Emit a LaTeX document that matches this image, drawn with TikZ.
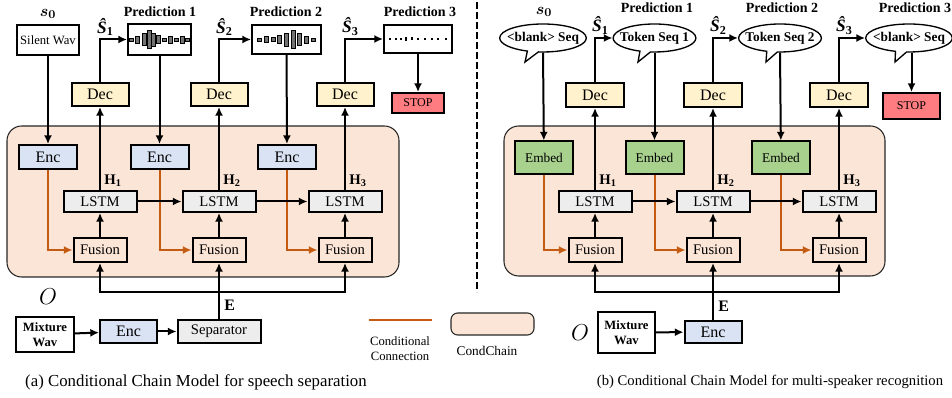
\documentclass[tikz,border=0pt]{standalone}
\usepackage{fontspec}
\setmainfont{Liberation Serif}
\usepackage{bm}
\usetikzlibrary{arrows.meta,shapes.callouts}
\definecolor{chainfill}{HTML}{FBE5D6}
\definecolor{encblue}{HTML}{DAE3F3}
\definecolor{decyellow}{HTML}{FFF2CC}
\definecolor{lstmgray}{HTML}{EDEDED}
\definecolor{embgreen}{HTML}{A9D18E}
\definecolor{stopred}{HTML}{FF7C80}
\definecolor{condorange}{HTML}{C55A11}
\newlength{\pxu}
\setlength{\pxu}{0.75pt}
\begin{document}
\begin{tikzpicture}[x=0.75pt,y=-0.75pt,
		blk/.style={draw,line width=1.5pt,inner sep=0pt,align=center},
		enc/.style={blk,fill=encblue,minimum width=58\pxu,minimum height=24\pxu,font=\fontsize{12}{14}\selectfont},
		dec/.style={blk,fill=decyellow,minimum width=57\pxu,minimum height=23\pxu,font=\fontsize{12}{14}\selectfont},
		lstm/.style={blk,fill=lstmgray,minimum width=73\pxu,minimum height=21\pxu,font=\fontsize{11}{13}\selectfont},
		fuse/.style={blk,fill=chainfill,minimum width=53\pxu,minimum height=24\pxu,font=\fontsize{11}{13}\selectfont},
		embed/.style={blk,fill=embgreen,minimum width=58\pxu,minimum height=33\pxu,font=\fontsize{10}{12}\selectfont},
		stopbox/.style={blk,fill=stopred,font=\fontsize{9}{11}\selectfont},
		pred/.style={blk,fill=white},
		bubble/.style={ellipse callout,draw,line width=1pt,fill=white,inner xsep=-4pt,inner ysep=0pt,minimum height=28\pxu,font=\bfseries\fontsize{10}{12}\selectfont},
		title/.style={inner sep=0pt,font=\bfseries\fontsize{10.5}{12}\selectfont},
		hlab/.style={inner sep=1pt,font=\fontsize{11}{13}\selectfont},
		hatlab/.style={pos=0.5,anchor=south,inner sep=0pt,yshift=2pt,font=\bfseries\itshape\fontsize{13}{15}\selectfont},
		chain/.style={fill=chainfill,draw=black!85,line width=0.8pt,rounded corners=11pt},
		bar/.style={fill=black!55,draw=black,line width=0.4pt},
		line/.style={line width=1.5pt},
		arr/.style={line width=1.5pt,-{Latex[length=6.5pt,width=6pt]}},
		cond/.style={arr,draw=condorange}]
	\useasboundingbox (0,0) rectangle (952,398);
	
	% CondChain blocks
	\draw[chain] (7,126) rectangle (399,277);
	\draw[chain] (504,126) rectangle (885,276);
	
	%%%%%% (a) speech separation
	\node[blk,minimum width=62\pxu,minimum height=30\pxu,font=\fontsize{9.5}{11}\selectfont] (silent) at (48,40) {Silent Wav};
	\node[inner sep=0pt,font=\fontsize{13}{15}\selectfont] (sa0) at (48,14) {$\bm{s}_{\bm{0}}$};
	
	% Predictions
	\node[pred,minimum width=63\pxu,minimum height=31\pxu] (pa1) at (159.5,39.5) {};
	\node[pred,minimum width=69\pxu,minimum height=29\pxu] (pa2) at (286.5,39.5) {};
	\node[pred,minimum width=68\pxu,minimum height=28\pxu] (pa3) at (418,39) {};
	\node[title] (tpa1) at (160,12) {Prediction 1};
	\node[title] (tpa2) at (286,12) {Prediction 2};
	\node[title] (tpa3) at (420,12) {Prediction 3};
	\node[stopbox,minimum width=52\pxu,minimum height=20\pxu] (stopa) at (418,103) {STOP};
	\draw[arr] (pa3) -- (stopa);
	
	% Waveforms
	\begin{scope}[shift={(pa1.center)}]
		\foreach \dx/\h in {-28/3,-22/7,-15.5/12,-10.5/18,-6/13,-1/8,4.5/3,10.5/7,16.5/3,23/7,28/3}
			\draw[bar] (\dx-1.8,-\h/2) rectangle (\dx+1.8,\h/2);
	\end{scope}
	\begin{scope}[shift={(pa2.center)}]
		\foreach \dx/\h in {-27.5/3,-20.5/6,-13.5/4,-7.5/8,-0.5/13,6.5/18,12.5/12,19.5/7,26.5/3}
			\draw[bar] (\dx-1.8,-\h/2) rectangle (\dx+1.8,\h/2);
	\end{scope}
	\begin{scope}[shift={(pa3.center)}]
		\foreach \dx/\h in {-28/1.5,-22/1.5,-17/1.5,-12/4,-6/3,0/1.5,7/1.5,14/1.5,20/1.5,28/1.5}
			\fill (\dx-0.8,-\h/2) rectangle (\dx+0.8,\h/2);
	\end{scope}
	
	% Enc
	\foreach \k/\x in {1/48,2/159.5,3/287}
		\node[enc] (enca\k) at (\x,157) {Enc};
	\draw[arr] (silent) -- (enca1);
	\draw[arr] (pa1) -- (enca2);
	\draw[arr] (pa2) -- (enca3);
	
	% Dec, LSTM and Fusion
	\foreach \k/\x in {1/100,2/219,3/345}{
		\node[dec] (deca\k) at (\x,94.5) {Dec};
		\node[lstm] (lstma\k) at (\x,201.5) {LSTM};
		\node[fuse] (fusa\k) at (\x,250) {Fusion};
		\node[hlab] (ha\k) at (\x+13,181) {$\mathbf{H}_{\mathbf{\k}}$};
		\draw[arr] (fusa\k) -- (lstma\k);
		\draw[arr] (lstma\k) -- (deca\k);
		\draw[arr] (deca\k.north) |- node[hatlab,xshift=4pt] (sha\k) {Ŝ\textsubscript{\upshape\k}} (pa\k.west);
		\draw[cond] (enca\k.south) |- (fusa\k.west);
	}
	\draw[arr] (lstma1) -- (lstma2);
	\draw[arr] (lstma2) -- (lstma3);
	
	% Mixture input
	\node[blk,minimum width=58\pxu,minimum height=35\pxu,font=\bfseries\fontsize{9.5}{11}\selectfont] (mixa) at (45,334.5) {Mixture\\Wav};
	\node[font=\fontsize{16}{18}\selectfont] (oa) at (48,297) {$O$};
	\node[enc,minimum width=57\pxu,minimum height=23\pxu] (encab) at (128.5,331.5) {Enc};
	\node[blk,fill=lstmgray,minimum width=83\pxu,minimum height=23\pxu,font=\fontsize{11}{13}\selectfont] (sep) at (219,331.5) {Separator};
	\draw[arr] (mixa) -- (encab);
	\draw[arr] (encab) -- (sep);
	\coordinate (busa) at (219,292.5);
	\draw[line] (sep.north) -- node[right,font=\fontsize{12}{14}\selectfont] (ea) {$\mathbf{E}$} (busa);
	\draw[arr] (busa) -| (fusa1.south);
	\draw[arr] (busa) -| (fusa3.south);
	\draw[arr] (busa) -- (fusa2.south);
	
	% Legend
	\coordinate (conda) at (369,320);
	\coordinate (condb) at (432,320);
	\draw[condorange,line width=2.2pt] (conda) -- (condb);
	\node[align=center,font=\fontsize{9.5}{11.5}\selectfont] (condtxt) at (400,349) {Conditional\\Connection};
	\draw[chain,rounded corners=5pt] (451,313) rectangle (534,335);
	\node[font=\fontsize{10}{12}\selectfont] (chaintxt) at (487,351) {CondChain};
	
	% Divider
	\draw[line width=2pt,dash pattern=on 5pt off 2.5pt] (477,2) -- (477,292);
	
	%%%%%% (b) multi-speaker recognition
	\node[bubble,callout absolute pointer={(525,62)}] (bub0) at (543,38) {<blank> Seq};
	\node[bubble,callout absolute pointer={(638,62)}] (bub1) at (654.5,38) {Token Seq 1};
	\node[bubble,callout absolute pointer={(766,62)}] (bub2) at (780,38) {Token Seq 2};
	\node[bubble,callout absolute pointer={(895,62)}] (bub3) at (909,38) {<blank> Seq};
	\node[inner sep=0pt,font=\fontsize{13}{15}\selectfont] (sb0) at (544,12) {$\bm{s}_{\bm{0}}$};
	\node[title] (tpb1) at (657,8) {Prediction 1};
	\node[title] (tpb2) at (782,8) {Prediction 2};
	\node[title] (tpb3) at (915,8) {Prediction 3};
	\node[stopbox,minimum width=57\pxu,minimum height=26\pxu] (stopb) at (911.5,106) {STOP};
	\draw[arr] (stopb.north |- bub3.south) -- (stopb);
	
	% Embed
	\foreach \k/\x in {1/544,2/654.5,3/781}
		\node[embed] (embb\k) at (\x,158) {Embed};
	\draw[arr] (bub0.south) -- (embb1);
	\draw[arr] (bub1.south) -- (embb2);
	\draw[arr] (bub2.south) -- (embb3);
	
	% Dec, LSTM and Fusion
	\foreach \k/\x in {1/595,2/713,3/839}{
		\node[dec,minimum width=58\pxu,minimum height=24\pxu] (decb\k) at (\x,95) {Dec};
		\node[lstm] (lstmb\k) at (\x,201.5) {LSTM};
		\node[fuse] (fusb\k) at (\x,250) {Fusion};
		\node[hlab] (hb\k) at (\x+13,181) {$\mathbf{H}_{\mathbf{\k}}$};
		\draw[arr] (fusb\k) -- (lstmb\k);
		\draw[arr] (lstmb\k) -- (decb\k);
		\draw[arr] (decb\k.north) |- node[hatlab,xshift=4pt] (shb\k) {Ŝ\textsubscript{\upshape\k}} (bub\k.west);
		\draw[cond] (embb\k.south) |- (fusb\k.west);
	}
	\draw[arr] (lstmb1) -- (lstmb2);
	\draw[arr] (lstmb2) -- (lstmb3);
	
	% Mixture input
	\node[blk,minimum width=57\pxu,minimum height=41\pxu,font=\bfseries\fontsize{9.5}{11}\selectfont] (mixb) at (626.5,332.5) {Mixture\\Wav};
	\node[font=\fontsize{16}{18}\selectfont] (ob) at (580,333) {$O$};
	\node[enc,minimum width=57\pxu,minimum height=22\pxu] (encbb) at (713,332) {Enc};
	\draw[arr] (mixb) -- (encbb);
	\coordinate (busb) at (713,292.5);
	\draw[line] (encbb.north) -- node[right,font=\fontsize{12}{14}\selectfont] (eb) {$\mathbf{E}$} (busb);
	\draw[arr] (busb) -| (fusb1.south);
	\draw[arr] (busb) -| (fusb3.south);
	\draw[arr] (busb) -- (fusb2.south);
	
	% Captions
	\node[font=\fontsize{12.6}{14}\selectfont] (capa) at (196,382) {(a) Conditional Chain Model for speech separation};
	\node[font=\fontsize{11}{13}\selectfont] (capb) at (770,382) {(b) Conditional Chain Model for multi-speaker recognition};
\end{tikzpicture}
\end{document}
